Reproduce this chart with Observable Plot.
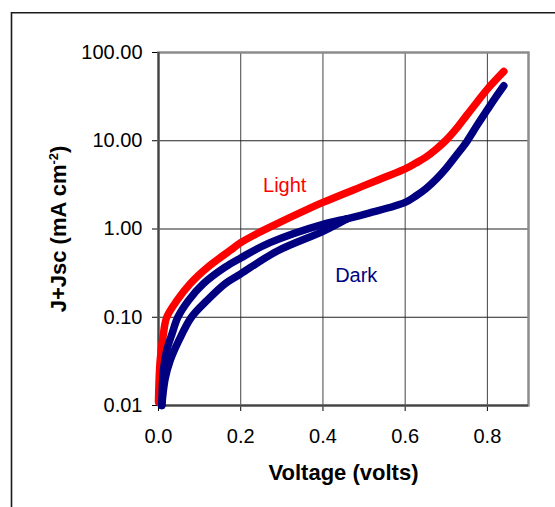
<!DOCTYPE html>
<html><head><meta charset="utf-8">
<script src="https://cdn.jsdelivr.net/npm/d3@7"></script>
<script src="https://cdn.jsdelivr.net/npm/@observablehq/plot@0.6"></script>
<style>
html,body{margin:0;padding:0;background:#fff;}
#chart{position:relative;width:555px;height:507px;overflow:hidden;}
</style></head><body><div id="chart"></div>
<script>
// Light curve (J+Jsc vs V)
const lightV = [0.000, 0.004, 0.012, 0.020, 0.045, 0.077, 0.120, 0.174, 0.200, 0.250, 0.300, 0.400, 0.500, 0.550, 0.600, 0.625, 0.650, 0.675, 0.700, 0.725, 0.750, 0.775, 0.800, 0.840];
const lightJ = [0.011, 0.032, 0.065, 0.100, 0.155, 0.240, 0.370, 0.570, 0.700, 0.940, 1.220, 2.000, 3.100, 3.850, 4.800, 5.550, 6.500, 8.000, 10.20, 13.80, 19.50, 27.50, 38.50, 61.00];
// Dark curve: two low-voltage branches (hysteresis) that merge, then a common high-voltage part
const darkUpV  = [0.008, 0.012, 0.020, 0.033, 0.047, 0.073, 0.109, 0.162, 0.200, 0.271, 0.400, 0.458];
const darkUpJ  = [0.010, 0.025, 0.042, 0.065, 0.100, 0.155, 0.240, 0.370, 0.470, 0.700, 1.130, 1.300];
const darkLowV = [0.008, 0.016, 0.028, 0.049, 0.080, 0.118, 0.162, 0.200, 0.288, 0.400, 0.458];
const darkLowJ = [0.010, 0.020, 0.032, 0.054, 0.100, 0.155, 0.240, 0.310, 0.560, 0.940, 1.300];
const darkV    = [0.458, 0.514, 0.600, 0.625, 0.650, 0.675, 0.700, 0.725, 0.750, 0.775, 0.800, 0.820, 0.840];
const darkJ    = [1.300, 1.520, 2.000, 2.350, 2.850, 3.650, 4.900, 6.900, 9.800, 15.00, 22.50, 31.00, 42.00];

const seriesNames = ["Light", "Dark"];
const seriesColors = ["#ff0000", "#000080"];
const labelV = [0.307, 0.481];
const labelJ = [3.1, 0.30];

const xTicks = [0, 0.2, 0.4, 0.6, 0.8];
const yTicks = [0.01, 0.1, 1, 10, 100];
const xTitle = "Voltage (volts)";
const yTitle = "J+Jsc (mA cm-2)";

const rows = [];
lightV.forEach((v, i) => rows.push({series: "Light", branch: "light", v, j: lightJ[i]}));
darkUpV.forEach((v, i) => rows.push({series: "Dark", branch: "darkUp", v, j: darkUpJ[i]}));
darkLowV.forEach((v, i) => rows.push({series: "Dark", branch: "darkLow", v, j: darkLowJ[i]}));
darkV.forEach((v, i) => rows.push({series: "Dark", branch: "dark", v, j: darkJ[i]}));
const labels = seriesNames.map((s, i) => ({series: s, v: labelV[i], j: labelJ[i]}));

const FONT = "'Liberation Sans', Arial, Helvetica, sans-serif";

const plot = Plot.plot({
  width: 555, height: 507,
  marginLeft: 158, marginRight: 27, marginTop: 52, marginBottom: 102,
  style: {fontFamily: FONT, fontSize: "20px", background: "#fff", color: "#000", overflow: "visible"},
  x: {domain: [0, 0.9], ticks: xTicks, tickFormat: d3.format(".1f"), tickSize: 6, tickPadding: 17, label: null},
  y: {type: "log", domain: [0.01, 100], ticks: yTicks, tickFormat: d3.format(".2f"), tickSize: 6, tickPadding: 10, label: null},
  color: {domain: seriesNames, range: seriesColors},
  marks: [
    Plot.gridX(xTicks.filter(d => d > 0), {stroke: "#444", strokeOpacity: 1, strokeWidth: 1}),
    Plot.gridY(yTicks.filter(d => d > 0.01 && d < 100), {stroke: "#222", strokeOpacity: 1, strokeWidth: 1}),
    Plot.frame({stroke: "#8c8c8c", strokeWidth: 2.5}),
    Plot.ruleX([0], {stroke: "#444", strokeWidth: 2}),
    Plot.ruleY([0.01], {stroke: "#444", strokeWidth: 2}),
    Plot.line(rows, {x: "v", y: "j", z: "branch", stroke: "series", strokeWidth: 7.5, curve: "catmull-rom", strokeLinecap: "round", strokeLinejoin: "round"}),
    Plot.text(labels, {x: "v", y: "j", text: "series", fill: "series", fontSize: 20}),
    Plot.text([xTitle], {frameAnchor: "bottom", lineAnchor: "middle", textAnchor: "middle", dy: 67, fontWeight: "bold", fontSize: 22, fill: "#000"}),
    Plot.text([yTitle], {frameAnchor: "left", lineAnchor: "middle", textAnchor: "middle", dx: -100, rotate: -90, fontWeight: "bold", fontSize: 22, fill: "#000"})
  ]
});

document.getElementById("chart").appendChild(plot);

// superscript in y title
d3.select(plot).selectAll("text").filter(function() { return this.textContent === yTitle; }).each(function() {
  const t = d3.select(this);
  t.text(null);
  t.append("tspan").text("J+Jsc (mA cm");
  t.append("tspan").attr("dy", -8).attr("font-size", 13).text("-2");
  t.append("tspan").attr("dy", 8).text(")");
});

// outer chart-area border (top and left edges visible)
d3.select(plot).append("path")
  .attr("d", "M11.5,507V12.75H555")
  .attr("fill", "none")
  .attr("stroke", "#1a1a1a")
  .attr("stroke-width", 1.6);
</script>
</body></html>
